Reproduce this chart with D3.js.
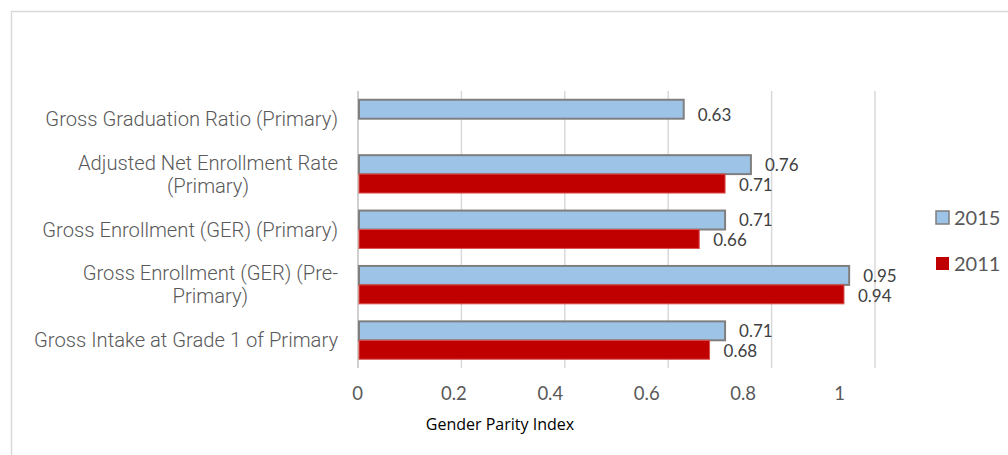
<!DOCTYPE html>
<html>
<head>
<meta charset="utf-8">
<script src="https://cdn.jsdelivr.net/npm/d3@7"></script>
<style>
  html, body { margin: 0; padding: 0; background: #fff; }
  svg { display: block; }
</style>
</head>
<body>
<svg id="chart" width="1008" height="455"></svg>
<script>
// Indicators, top to bottom, with wrapped label lines
const categories = [
  ["Gross Graduation Ratio (Primary)"],
  ["Adjusted Net Enrollment Rate", "(Primary)"],
  ["Gross Enrollment (GER) (Primary)"],
  ["Gross Enrollment (GER) (Pre-", "Primary)"],
  ["Gross Intake at Grade 1 of Primary"]
];
const seriesNames = ["2015", "2011"];
const values2015 = [0.63, 0.76, 0.71, 0.95, 0.71];
const values2011 = [null, 0.71, 0.66, 0.94, 0.68];
const tickValues = [0, 0.2, 0.4, 0.6, 0.8, 1];
const axisTitle = "Gender Parity Index";

const colors = { "2015": "#9DC3E6", "2011": "#C00000" };
const strokes = { "2015": "#7F7F7F", "2011": "#D9534F" };

const svg = d3.select("#chart");

// outer chart frame
svg.append("rect")
  .attr("x", 11.5).attr("y", 11.5)
  .attr("width", 1030).attr("height", 470)
  .attr("fill", "none").attr("stroke", "#D9D9D9").attr("stroke-width", 1.5);

const plot = { left: 358, right: 875, top: 91, bottom: 368 };

const x = d3.scaleLinear().domain([0, 1]).range([plot.left, plot.right]);
// tick label positions along the bottom
const xLabel = d3.scaleLinear().domain([0, 1]).range([357, 839]);
const y = d3.scaleBand().domain(d3.range(categories.length))
  .range([plot.top, plot.bottom]).paddingInner(0.28).paddingOuter(0.14);
const ySub = d3.scaleBand().domain(seriesNames).range([0, y.bandwidth()]);

// vertical gridlines
svg.append("g").selectAll("line").data(tickValues).join("line")
  .attr("x1", d => x(d)).attr("x2", d => x(d))
  .attr("y1", plot.top).attr("y2", plot.bottom)
  .attr("stroke", d => d === 0 ? "#D0D0D0" : "#D9D9D9")
  .attr("stroke-width", d => d === 0 ? 2 : 1.5);

// bottom tick labels via a d3 axis
const axis = svg.append("g")
  .attr("transform", `translate(0,${plot.bottom})`)
  .call(d3.axisBottom(xLabel).tickValues(tickValues).tickFormat(d3.format("~g")).tickSize(0).tickPadding(19));
axis.select(".domain").remove();
axis.selectAll("text")
  .attr("fill", "#595959")
  .style("font-family", "Lato, 'Open Sans', sans-serif")
  .style("font-size", "18.5px");

// axis title
svg.append("text")
  .attr("x", 500).attr("y", 430)
  .attr("text-anchor", "middle")
  .attr("fill", "#000")
  .style("font-family", "'Open Sans', Lato, sans-serif")
  .style("font-size", "16px")
  .text(axisTitle);

// bars
const rows = categories.map((c, i) => ({ i, v: { "2015": values2015[i], "2011": values2011[i] } }));
const groups = svg.append("g").selectAll("g").data(rows).join("g")
  .attr("transform", d => `translate(0,${y(d.i)})`);

seriesNames.forEach(s => {
  const present = groups.filter(d => d.v[s] != null);
  present.append("rect")
    .attr("x", x(0) + 1)
    .attr("y", ySub(s) + (s === "2015" ? 1 : 0))
    .attr("width", d => x(d.v[s]) - x(0) - 1)
    .attr("height", ySub.bandwidth() - 1)
    .attr("fill", colors[s])
    .attr("stroke", strokes[s])
    .attr("stroke-width", s === "2015" ? 2 : 1);

  // value labels; a lone bar's label sits a little lower
  present.append("text")
    .attr("x", d => x(d.v[s]) + 14)
    .attr("y", d => ySub(s) + ySub.bandwidth() / 2 + (d.v["2011"] == null ? 6 : 1))
    .attr("dy", "0.35em")
    .attr("fill", "#404040")
    .style("font-family", "Lato, 'Open Sans', sans-serif")
    .style("font-size", "17px")
    .text(d => d3.format(".2f")(d.v[s]));
});

// category labels: lines centred within a block right-aligned to the axis
const labelRight = 338;
const lineH = 23;
categories.forEach((lines, i) => {
  const g = svg.append("g");
  const texts = lines.map(l => g.append("text")
    .attr("fill", "#595959")
    .style("font-family", "Roboto, 'Noto Sans', sans-serif")
    .style("font-weight", "300")
    .style("font-size", "20.2px")
    .attr("text-anchor", "middle")
    .text(l));
  const maxW = d3.max(texts, t => t.node().getComputedTextLength());
  const cy = y(i) + y.bandwidth() / 2;
  texts.forEach((t, k) => {
    t.attr("x", labelRight - maxW / 2)
     .attr("y", cy + (k - (lines.length - 1) / 2) * lineH)
     .attr("dy", "0.35em");
  });
});

// legend
const legend = svg.append("g").selectAll("g").data(seriesNames).join("g")
  .attr("transform", (d, i) => `translate(936,${211 + i * 46})`);
legend.append("rect")
  .attr("width", 13).attr("height", 13)
  .attr("fill", d => colors[d])
  .attr("stroke", d => d === "2015" ? "#7F7F7F" : "none")
  .attr("stroke-width", 1.5);
legend.append("text")
  .attr("x", 18).attr("y", 7).attr("dy", "0.35em")
  .attr("fill", "#595959")
  .style("font-family", "Lato, 'Open Sans', sans-serif")
  .style("font-size", "20px")
  .text(d => d);
</script>
</body>
</html>
